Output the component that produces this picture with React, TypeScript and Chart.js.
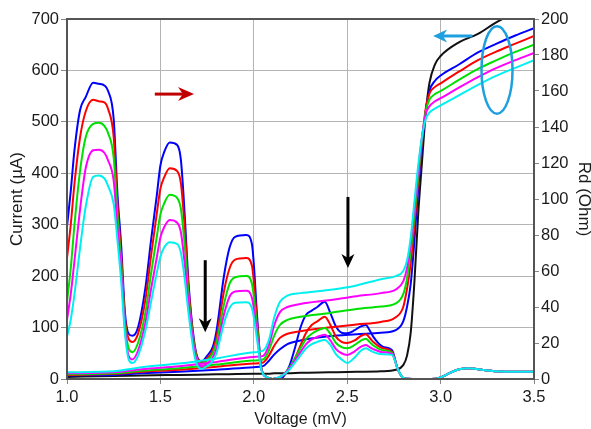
import React, { useEffect, useRef } from 'react';
import { Chart, registerables } from 'chart.js';

Chart.register(...registerables);

// ---- Rd (Ohm) curves, right axis ----
const rdVoltage = [
  1.00, 1.02, 1.04, 1.07, 1.10, 1.14, 1.17, 1.20, 1.22, 1.25, 1.27, 1.29, 1.31, 1.33, 1.35,
  1.38, 1.42, 1.45, 1.48, 1.50, 1.52, 1.55, 1.59, 1.61, 1.63, 1.65, 1.68, 1.70, 1.72, 1.75, 1.78, 1.80,
  1.84, 1.87, 1.90, 1.96, 1.99, 2.02, 2.04, 2.07, 2.10, 2.15,
  2.19, 2.22, 2.25, 2.28, 2.31, 2.34, 2.38, 2.41, 2.44, 2.47, 2.50,
  2.54, 2.57, 2.60, 2.62, 2.64, 2.69, 2.74, 2.77, 2.80,
  2.85, 2.95, 3.00, 3.05, 3.10, 3.15, 3.20, 3.30, 3.40, 3.50,
];
const rdBlue = [
  84.6, 104.3, 127.1, 149.4, 156.6, 164.6, 164.0, 163.1, 160.0, 144.3, 102.9, 74.3, 37.1, 25.1, 24.0,
  28.6, 50.9, 77.1, 101.4, 118.6, 126.0, 131.4, 130.0, 121.4, 91.4, 54.3, 21.4, 11.4, 9.7, 12.9, 17.7, 26.6,
  57.1, 72.9, 79.0, 80.0, 74.9, 31.4, 5.7, 0.9, 0, 0.6,
  7.1, 17.1, 28.6, 35.7, 38.0, 40.0, 42.9, 36.6, 29.1, 25.7, 25.4,
  27.1, 29.1, 30.0, 27.1, 23.4, 18.0, 16.0, 5.7, 0.6,
  0, 0, 0.9, 3.4, 5.4, 6.0, 5.4, 4.3, 4.0, 4.0,
];
const rdRed = [
  67.1, 85.7, 108.6, 134.3, 148.6, 155.1, 154.3, 153.7, 150.0, 134.3, 97.1, 68.6, 34.3, 22.3, 20.6,
  25.1, 44.3, 68.6, 91.4, 105.7, 112.0, 117.1, 115.5, 108.6, 84.3, 51.4, 20.0, 10.9, 9.1, 11.4, 15.7, 22.9,
  48.6, 61.4, 66.3, 67.2, 62.9, 28.6, 6.3, 1.1, 0, 1.4,
  5.7, 11.4, 18.6, 25.7, 30.0, 32.0, 34.6, 30.0, 23.4, 20.6, 20.0,
  21.4, 23.7, 24.9, 22.9, 20.6, 17.1, 15.1, 5.7, 0.6,
  0, 0, 0.9, 3.4, 5.4, 6.0, 5.4, 4.3, 4.0, 4.0,
];
const rdGreen = [
  42.9, 61.4, 85.7, 115.7, 134.3, 141.7, 142.3, 140.6, 136.6, 122.9, 91.4, 64.3, 31.4, 17.1, 14.9,
  20.0, 37.1, 58.6, 78.6, 91.4, 97.5, 102.3, 100.5, 94.3, 74.3, 47.1, 18.6, 10.0, 8.6, 10.3, 14.3, 20.0,
  41.4, 52.9, 56.5, 57.2, 52.9, 25.7, 6.3, 1.1, 0, 1.7,
  6.3, 11.4, 17.1, 22.3, 25.1, 26.9, 28.3, 25.1, 20.0, 17.7, 17.1,
  18.9, 21.1, 22.3, 20.6, 18.6, 16.0, 14.6, 5.7, 0.6,
  0, 0, 0.9, 3.4, 5.4, 6.0, 5.4, 4.3, 4.0, 4.0,
];
const rdMagenta = [
  32.9, 47.1, 65.7, 94.3, 117.1, 127.1, 127.4, 125.7, 121.4, 110.0, 84.3, 60.0, 28.6, 12.9, 10.9,
  15.7, 31.4, 50.0, 67.1, 78.6, 84.3, 88.3, 86.8, 81.4, 64.3, 42.9, 17.1, 8.6, 7.1, 8.6, 12.0, 16.6,
  35.7, 45.7, 48.6, 49.0, 45.1, 22.9, 5.7, 1.1, 0, 1.7,
  5.7, 10.3, 14.9, 19.4, 22.0, 23.4, 24.6, 21.4, 16.6, 14.3, 13.4,
  15.4, 17.7, 18.9, 17.7, 16.6, 14.9, 14.0, 5.7, 0.6,
  0, 0, 0.9, 3.4, 5.4, 6.0, 5.4, 4.3, 4.0, 4.0,
];
const rdCyan = [
  23.4, 32.9, 47.1, 72.9, 95.7, 112.3, 113.1, 111.4, 107.1, 97.1, 77.1, 54.3, 25.7, 10.9, 8.9,
  12.9, 27.1, 42.9, 58.6, 68.0, 73.0, 76.0, 75.0, 70.0, 55.7, 37.1, 14.3, 7.1, 5.7, 7.1, 10.0, 14.3,
  30.9, 39.4, 42.3, 42.6, 39.4, 20.0, 5.1, 1.1, 0, 1.7,
  5.1, 9.1, 13.1, 17.1, 19.4, 20.6, 21.7, 18.9, 13.7, 10.9, 8.9,
  12.0, 15.4, 17.1, 16.0, 14.9, 13.7, 13.4, 5.7, 0.6,
  0, 0, 0.9, 3.4, 5.4, 6.0, 5.4, 4.3, 4.0, 4.0,
];

// ---- Current (µA) curves, left axis ----
const ivVoltage = [
  1.00, 1.25, 1.40, 1.60, 1.80, 2.00, 2.05, 2.08, 2.11, 2.14, 2.18, 2.25, 2.40, 2.55, 2.68, 2.76,
  2.80, 2.82, 2.84, 2.86, 2.88, 2.90, 2.92, 2.94, 2.97, 3.00, 3.10, 3.20, 3.30, 3.40, 3.50,
];
const ivBlack = [4, 6, 7, 8, 9, 10, 10, 10, 11, 11, 11, 12, 13, 14, 15, 18, 27, 45, 90, 190, 320, 420, 515, 575, 612, 628, 655, 671, 694, 712, 730];
const ivBlue = [7, 8, 11, 14, 18, 23, 25, 35, 48, 58, 68, 75, 83, 87, 90, 95, 112, 140, 185, 270, 370, 450, 520, 560, 580, 590, 612, 635, 652, 668, 682];
const ivRed = [8, 10, 14, 18, 24, 30, 32, 45, 65, 80, 88, 93, 100, 106, 111, 120, 140, 175, 225, 300, 385, 460, 525, 555, 568, 575, 598, 620, 637, 652, 667];
const ivGreen = [9, 11, 16, 21, 28, 36, 38, 55, 85, 105, 115, 121, 128, 136, 141, 147, 165, 195, 250, 320, 395, 465, 520, 543, 554, 560, 582, 603, 620, 636, 650];
const ivMagenta = [11, 13, 19, 25, 33, 43, 45, 65, 105, 130, 140, 146, 153, 161, 167, 174, 190, 215, 265, 335, 405, 470, 515, 530, 540, 546, 567, 587, 605, 620, 634];
const ivCyan = [13, 15, 23, 30, 40, 52, 55, 75, 120, 150, 162, 167, 173, 182, 194, 200, 210, 230, 275, 345, 415, 470, 505, 518, 526, 532, 552, 572, 590, 605, 620];

// ---- annotation anchors (data units: Voltage, Current) ----
const redArrowV = [1.47, 1.68];
const redArrowI = [554, 554];
const downArrow1V = [1.74, 1.74];
const downArrow1I = [231, 91];
const downArrow2V = [2.504, 2.504];
const downArrow2I = [354, 216];
const blueArrowV = [3.17, 2.96];
const blueArrowI = [667, 667];
const ellipseCenter = [3.302, 601];
const ellipseRadius = [0.083, 85];

const FONT = "'Liberation Sans', Arial, sans-serif";
const TEXT = '#1a1a1a';

function pts(xs: number[], ys: number[]) {
  return xs.map((x, i) => ({ x, y: ys[i] }));
}

function line(label: string, xs: number[], ys: number[], color: string, axis: string) {
  return {
    label,
    data: pts(xs, ys),
    borderColor: color,
    backgroundColor: color,
    borderWidth: 2,
    pointRadius: 0,
    fill: false,
    yAxisID: axis,
    cubicInterpolationMode: 'monotone' as const,
  };
}

function drawArrow(ctx: CanvasRenderingContext2D, x1: number, y1: number, x2: number, y2: number,
  color: string, lw: number, hl: number, hw: number) {
  const a = Math.atan2(y2 - y1, x2 - x1);
  const c = Math.cos(a), s = Math.sin(a);
  ctx.strokeStyle = color;
  ctx.fillStyle = color;
  ctx.lineWidth = lw;
  ctx.lineCap = 'butt';
  ctx.beginPath();
  ctx.moveTo(x1, y1);
  ctx.lineTo(x2 - hl * 0.6 * c, y2 - hl * 0.6 * s);
  ctx.stroke();
  ctx.beginPath();
  ctx.moveTo(x2, y2);
  ctx.lineTo(x2 - hl * c - hw * s, y2 - hl * s + hw * c);
  ctx.lineTo(x2 - hl * 0.7 * c, y2 - hl * 0.7 * s);
  ctx.lineTo(x2 - hl * c + hw * s, y2 - hl * s - hw * c);
  ctx.closePath();
  ctx.fill();
}

const decorPlugin = {
  id: 'decor',
  afterDatasetsDraw(chart: any) {
    const { ctx, chartArea, scales } = chart;
    const xs = scales.x;
    const ys = scales.y;
    ctx.save();
    ctx.strokeStyle = '#555';
    ctx.lineWidth = 2;
    ctx.strokeRect(chartArea.left, chartArea.top, chartArea.right - chartArea.left, chartArea.bottom - chartArea.top);

    const px = (v: number) => xs.getPixelForValue(v);
    const py = (v: number) => ys.getPixelForValue(v);
    drawArrow(ctx, px(redArrowV[0]), py(redArrowI[0]), px(redArrowV[1]), py(redArrowI[1]), '#c00000', 3, 16, 7);
    drawArrow(ctx, px(downArrow1V[0]), py(downArrow1I[0]), px(downArrow1V[1]), py(downArrow1I[1]), '#000', 3, 14, 6.5);
    drawArrow(ctx, px(downArrow2V[0]), py(downArrow2I[0]), px(downArrow2V[1]), py(downArrow2I[1]), '#000', 3, 14, 6.5);
    drawArrow(ctx, px(blueArrowV[0]), py(blueArrowI[0]), px(blueArrowV[1]), py(blueArrowI[1]), '#1ea0e0', 3, 14, 6.5);

    const cx = px(ellipseCenter[0]);
    const cy = py(ellipseCenter[1]);
    const rx = px(ellipseCenter[0] + ellipseRadius[0]) - cx;
    const ry = cy - py(ellipseCenter[1] + ellipseRadius[1]);
    ctx.strokeStyle = '#1ea0e0';
    ctx.lineWidth = 2.5;
    ctx.beginPath();
    ctx.ellipse(cx, cy, rx, ry, 0, 0, Math.PI * 2);
    ctx.stroke();
    ctx.restore();
  },
};

export default function App() {
  const ref = useRef<HTMLCanvasElement>(null);

  useEffect(() => {
    if (!ref.current) return;
    const chart = new Chart(ref.current, {
      type: 'line',
      data: {
        datasets: [
          line('Rd cyan', rdVoltage, rdCyan, '#00f0f0', 'y1'),
          line('I cyan', ivVoltage, ivCyan, '#00f0f0', 'y'),
          line('Rd magenta', rdVoltage, rdMagenta, '#ff00ff', 'y1'),
          line('I magenta', ivVoltage, ivMagenta, '#ff00ff', 'y'),
          line('Rd green', rdVoltage, rdGreen, '#00e000', 'y1'),
          line('I green', ivVoltage, ivGreen, '#00e000', 'y'),
          line('Rd red', rdVoltage, rdRed, '#ff0000', 'y1'),
          line('I red', ivVoltage, ivRed, '#ff0000', 'y'),
          line('Rd blue', rdVoltage, rdBlue, '#0000ff', 'y1'),
          line('I blue', ivVoltage, ivBlue, '#0000ff', 'y'),
          line('I black', ivVoltage, ivBlack, '#111111', 'y'),
        ],
      },
      options: {
        responsive: false,
        devicePixelRatio: 1,
        animation: false,
        layout: { padding: { top: 19, left: 0, right: 0, bottom: 0 } },
        plugins: { legend: { display: false }, tooltip: { enabled: false } },
        scales: {
          x: {
            type: 'linear',
            min: 1,
            max: 3.5,
            ticks: {
              stepSize: 0.5,
              color: TEXT,
              font: { family: FONT, size: 16.5 },
              padding: 4,
              callback: (v: any) => Number(v).toFixed(1),
            },
            grid: { color: '#b4b4b4', lineWidth: 1, tickLength: 5, tickColor: '#888' },
            border: { display: true, color: '#555', width: 2 },
            title: {
              display: true,
              text: 'Voltage (mV)',
              color: TEXT,
              font: { family: FONT, size: 16 },
              padding: { top: 0, bottom: 0 },
            },
            afterFit: (s: any) => { s.height = 50; },
          },
          y: {
            type: 'linear',
            position: 'left',
            min: 0,
            max: 700,
            ticks: { stepSize: 100, color: TEXT, font: { family: FONT, size: 16.5 }, padding: 2 },
            grid: { color: '#b4b4b4', lineWidth: 1, tickLength: 6, tickColor: '#888' },
            border: { display: true, color: '#555', width: 2 },
            title: {
              display: true,
              text: 'Current (µA)',
              color: TEXT,
              font: { family: FONT, size: 17 },
              padding: { top: 7, bottom: 0 },
            },
            afterFit: (s: any) => { s.width = 67; },
          },
          y1: {
            type: 'linear',
            position: 'right',
            min: 0,
            max: 200,
            ticks: { stepSize: 20, color: TEXT, font: { family: FONT, size: 16.5 }, padding: 2 },
            grid: { drawOnChartArea: false, tickLength: 5, tickColor: '#888' },
            border: { display: true, color: '#555', width: 2 },
            title: {
              display: true,
              text: 'Rd (Ohm)',
              color: TEXT,
              font: { family: FONT, size: 17, lineHeight: 0.82 },
              padding: { top: 0, bottom: 0 },
            },
            afterFit: (s: any) => { s.width = 57; },
          },
        },
      },
      plugins: [decorPlugin],
    });
    return () => chart.destroy();
  }, []);

  return (
    <div style={{ position: 'fixed', left: 0, top: 0, width: 591, height: 429, background: '#ffffff' }}>
      <canvas ref={ref} width={591} height={429} style={{ display: 'block', width: 591, height: 429 }} />
    </div>
  );
}
